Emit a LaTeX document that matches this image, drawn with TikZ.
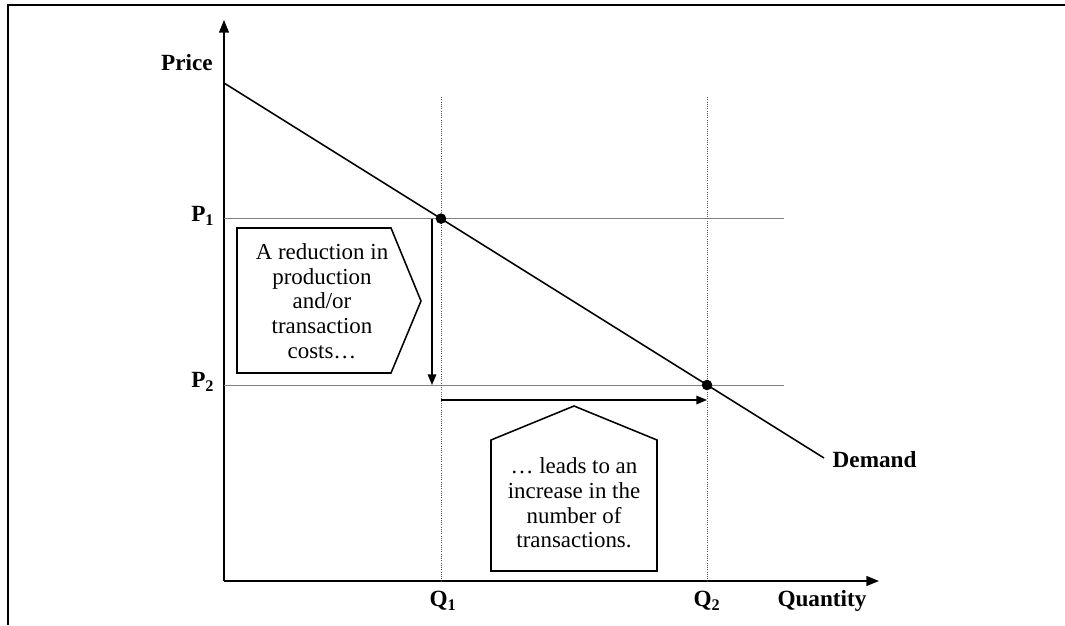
\documentclass[tikz,border=0pt]{standalone}
\usepackage{fontspec}
\setmainfont{Liberation Serif}
\usetikzlibrary{positioning,arrows.meta}

\begin{document}
\begin{tikzpicture}[x=0.025cm,y=-0.025cm,>={Triangle[length=7.5pt,width=6pt]}]
\tikzset{
  lbl/.style={font=\fontsize{16.5}{18}\selectfont\bfseries,inner sep=1pt},
  note/.style={font=\fontsize{16.3}{17.5}\selectfont,align=center,inner sep=0pt},
  level/.style={gray,line width=0.7pt},
  guide/.style={gray!70!black,densely dotted,line width=0.6pt},
  dot/.style={circle,fill,inner sep=0pt,minimum size=7.5pt},
  axis/.style={line width=1.2pt,-{Triangle[length=9pt,width=7pt]}}
}
\useasboundingbox (0,0) rectangle (1065,625);
% frame
\draw[line width=1.5pt] (8,625) -- (8,5) -- (1065,5);
% axes
\coordinate (O) at (224,581);
\coordinate (ytop) at (224,20);
\coordinate (xend) at (879,581);
\draw[axis] (O) -- (ytop);
\draw[axis] (O) -- (xend);
\node[lbl] (price) at (187,63) {Price};
\node[lbl] (qty) at (822,601) {Quantity};
% price levels and guides
\coordinate (p1) at (224,218.6);
\coordinate (p1r) at (784,218.6);
\coordinate (p2) at (224,385);
\coordinate (p2r) at (784,385);
\draw[level] (p1) -- (p1r);
\draw[level] (p2) -- (p2r);
\node[lbl,anchor=east] (P1) at (216,216) {P\textsubscript{1}};
\node[lbl,anchor=east] (P2) at (216,382) {P\textsubscript{2}};
\coordinate (g1) at (441,97);
\coordinate (g1b) at (441,581);
\coordinate (g2) at (707,97);
\coordinate (g2b) at (707,581);
\draw[guide] (g1) -- (g1b);
\draw[guide] (g2) -- (g2b);
\node[lbl] (Q1) at (443,601) {Q\textsubscript{1}};
\node[lbl] (Q2) at (707,601) {Q\textsubscript{2}};
% demand curve
\coordinate (d0) at (224,83);
\coordinate (d1) at (824,458);
\draw[line width=1.1pt] (d0) -- (d1);
\node[lbl,anchor=west] (dem) at (831,460) {Demand};
\node[dot] (e1) at (441,218.6) {};
\node[dot] (e2) at (707,385) {};
% shifts
\coordinate (a1) at (432,218.6);
\coordinate (a2) at (432,385);
\draw[->,line width=1.1pt] (a1) -- (a2);
\coordinate (b1) at (441,400);
\coordinate (b2) at (707,400);
\draw[->,line width=1.1pt] (b1) -- (b2);
% callouts
\draw[line width=1.1pt] (237,228) -- (391,228) -- (421,301) -- (391,373) -- (237,373) -- cycle;
\node[note] (cut) at (322,301) {A reduction in\\production\\and/or\\transaction\\costs\dots};
\draw[line width=1.1pt] (491,571) -- (491,440) -- (574,406) -- (657,440) -- (657,571) -- cycle;
\node[note] (rise) at (574,503) {\dots\ leads to an\\increase in the\\number of\\transactions.};
\end{tikzpicture}
\end{document}
